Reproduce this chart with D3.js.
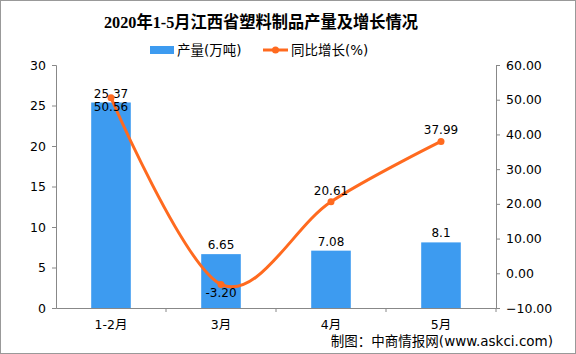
<!DOCTYPE html>
<html><head><meta charset="utf-8">
<script src="https://cdn.jsdelivr.net/npm/d3@7/dist/d3.min.js"></script>
<style>body{margin:0;background:#fff}svg{display:block}</style>
</head><body>
<script>
const categories = ["1-2月","3月","4月","5月"];
const production = [25.37, 6.65, 7.08, 8.1];
const growth = [50.56, -3.20, 20.61, 37.99];
const leftTicks = [0,5,10,15,20,25,30];
const rightTicks = [-10,0,10,20,30,40,50,60];

const W=576,H=354;
const svg=d3.select("body").append("svg").attr("width",W).attr("height",H);
svg.append("rect").attr("x",0.5).attr("y",0.5).attr("width",W-1).attr("height",H-1).attr("fill","#fff").attr("stroke","#999");

const font="'DejaVu Sans','Noto Sans CJK SC',sans-serif";
const x=d3.scaleBand().domain(categories).range([56,496]).paddingInner(0.64).paddingOuter(0.32);
const xb=d3.scaleBand().domain(categories).range([56,496]);
const yL=d3.scaleLinear().domain([0,30]).range([308,65]);
const yR=d3.scaleLinear().domain([-10,60]).range([308,65]);

svg.append("text").attr("x",261).attr("y",28).attr("text-anchor","middle")
  .attr("font-family","'Liberation Serif','Noto Sans CJK SC',serif").attr("font-weight","bold").attr("font-size",16.5)
  .attr("textLength",314).attr("lengthAdjust","spacingAndGlyphs")
  .text("2020年1-5月江西省塑料制品产量及增长情况");

// legend
const lg=svg.append("g").attr("font-family",font).attr("font-size",13.5);
lg.append("rect").attr("x",150).attr("y",46).attr("width",24).attr("height",8).attr("fill","#3d9bf0");
lg.append("text").attr("x",177).attr("y",55).text("产量(万吨)").attr("fill","#000");
lg.append("line").attr("x1",263).attr("x2",288).attr("y1",50).attr("y2",50).attr("stroke","#ff6a1f").attr("stroke-width",3);
lg.append("circle").attr("cx",275.5).attr("cy",50).attr("r",3.5).attr("fill","#ff6a1f");
lg.append("text").attr("x",291).attr("y",55).text("同比增长(%)").attr("fill","#000");

// axes
const axL=svg.append("g").attr("transform","translate(56,0)")
  .call(d3.axisLeft(yL).tickValues(leftTicks).tickSize(4).tickPadding(6));
const axR=svg.append("g").attr("transform","translate(496,0)")
  .call(d3.axisRight(yR).tickValues(rightTicks).tickSize(4).tickPadding(6).tickFormat(d3.format(".2f")));
const axX=svg.append("g").attr("transform","translate(0,308)")
  .call(d3.axisBottom(xb).tickSize(0).tickPadding(12));
axX.append("g").selectAll("line").data(categories.slice(1).concat(["end"])).join("line")
  .attr("x1",(d,i)=>56+xb.bandwidth()*(i+1)).attr("x2",(d,i)=>56+xb.bandwidth()*(i+1))
  .attr("y1",0).attr("y2",4).attr("stroke","#888");
[axL,axR,axX].forEach(a=>{a.selectAll("path,line").attr("stroke","#888");
  a.selectAll("text").attr("font-family",font).attr("font-size",12.5).attr("fill","#000");});

// bars
svg.append("g").selectAll("rect").data(production).join("rect")
  .attr("x",(d,i)=>x(categories[i])).attr("width",x.bandwidth())
  .attr("y",d=>yL(d)).attr("height",d=>yL(0)-yL(d)).attr("fill","#3d9bf0");
svg.append("g").selectAll("text").data(production).join("text")
  .attr("x",(d,i)=>x(categories[i])+x.bandwidth()/2).attr("y",d=>yL(d)-5)
  .attr("text-anchor","middle").attr("font-family",font).attr("font-size",12).text(d=>d);

// line
const pts=growth.map((d,i)=>[xb(categories[i])+xb.bandwidth()/2,yR(d)]);
svg.append("path").attr("d",d3.line().curve(d3.curveCardinal.tension(0))(pts))
  .attr("fill","none").attr("stroke","#ff6a1f").attr("stroke-width",3);
svg.append("g").selectAll("circle").data(pts).join("circle")
  .attr("cx",d=>d[0]).attr("cy",d=>d[1]).attr("r",3.5).attr("fill","#ff6a1f");
const below=[true,true,false,false];
svg.append("g").selectAll("text").data(growth).join("text")
  .attr("x",(d,i)=>pts[i][0]).attr("y",(d,i)=>below[i]?pts[i][1]+13:pts[i][1]-7)
  .attr("text-anchor","middle").attr("font-family",font).attr("font-size",12)
  .text(d=>d.toFixed(2));

svg.append("text").attr("x",553).attr("y",346).attr("text-anchor","end")
  .attr("font-family",font).attr("font-size",13.5).text("制图：中商情报网(www.askci.com)");
</script>
</body></html>
